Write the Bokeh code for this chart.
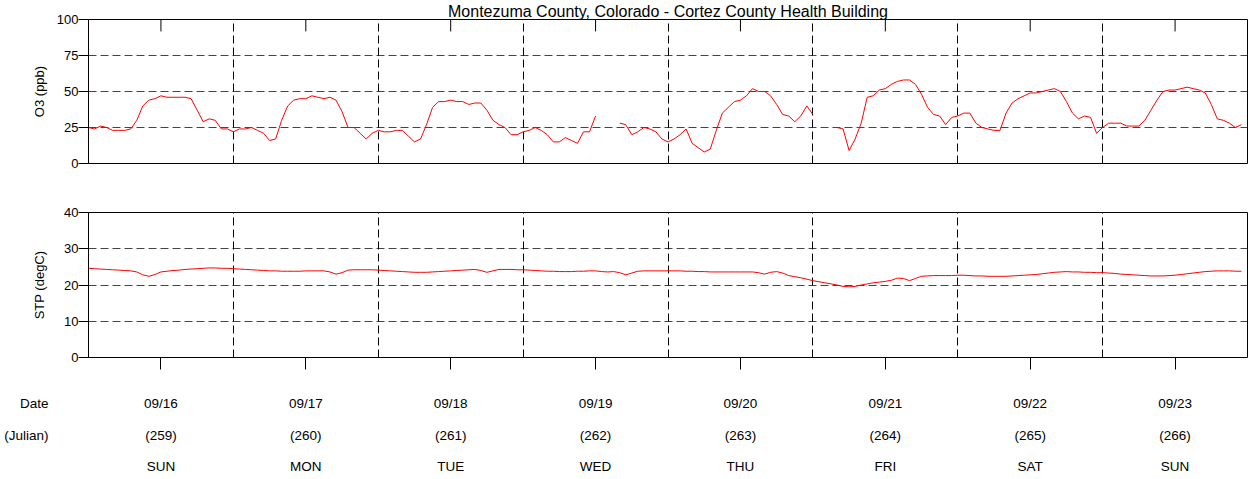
import math
import numpy as np
from bokeh.plotting import figure
from bokeh.models import LinearAxis, FixedTicker, Range1d, Grid
from bokeh.layouts import column
from bokeh.core.properties import value
from bokeh.embed import file_html
from bokeh.resources import INLINE

FONT = "Liberation Sans"
NaN = math.nan

title_text = "Montezuma County, Colorado - Cortez County Health Building"
julian_days = [259, 260, 261, 262, 263, 264, 265, 266]
date_labels = ["09/16", "09/17", "09/18", "09/19", "09/20", "09/21", "09/22", "09/23"]
weekday_labels = ["SUN", "MON", "TUE", "WED", "THU", "FRI", "SAT", "SUN"]
row_titles = ["Date", "(Julian)"]
o3_ticks = [0, 25, 50, 75, 100]
stp_ticks = [0, 10, 20, 30, 40]

# hourly ozone (ppb), starting at 00:00 of Julian day 259
o3_ppb = [
    25, 24, 26, 25, 23, 23, 23, 24, 30, 40, 44, 45, 47, 46, 46, 46, 46, 45, 37, 29, 31, 30, 24, 24,
    22, 24, 24, 25, 23, 21, 16, 17, 30, 40, 44, 45, 45, 47, 46, 45, 46, 44, 36, 25, 25, 21, 17, 21,
    23, 22, 22, 23, 23, 19, 15, 17, 27, 39, 43, 43, 44, 43, 43, 41, 42, 42, 37, 30, 27, 25, 20, 20,
    22, 23, 25, 23, 20, 15, 15, 18, 16, 14, 22, 22, 33, NaN, NaN, NaN, 28, 27, 20, 22, 25, 24, 22, 17,
    15, 17, 20, 24, 14, 11, 8, 10, 23, 35, 39, 43, 44, 47, 52, 50, 50, 47, 41, 34, 33, 29, 33, 40,
    34, NaN, NaN, NaN, 25, 24, 9, 17, 28, 46, 47, 51, 52, 55, 57, 58, 58, 55, 48, 39, 34, 33, 27, 32,
    33, 35, 35, 28, 25, 24, 23, 23, 35, 42, 45, 47, 49, 49, 50, 51, 52, 50, 43, 35, 31, 33, 32, 21,
    25, 28, 28, 28, 26, 26, 26, 30, 37, 44, 50, 51, 51, 52, 53, 52, 51, 49, 41, 31, 30, 28, 25, 27,
]

# hourly temperature (degC)
stp_degc = [
    24.6, 24.5, 24.4, 24.3, 24.2, 24.1, 24.0, 23.9, 23.6, 22.8, 22.4, 22.9, 23.6, 23.8, 24.0, 24.1, 24.3, 24.4, 24.5, 24.6, 24.7, 24.7, 24.6, 24.6,
    24.5, 24.4, 24.3, 24.2, 24.1, 24.0, 23.9, 23.9, 23.8, 23.8, 23.8, 23.8, 23.9, 23.9, 23.9, 23.9, 23.6, 23.0, 23.4, 24.1, 24.2, 24.2, 24.2, 24.2,
    24.1, 24.0, 23.9, 23.8, 23.7, 23.6, 23.5, 23.5, 23.5, 23.6, 23.7, 23.8, 23.9, 24.0, 24.1, 24.2, 24.3, 24.0, 23.5, 23.9, 24.3, 24.3, 24.3, 24.2,
    24.2, 24.1, 24.0, 23.9, 23.8, 23.8, 23.7, 23.7, 23.7, 23.8, 23.8, 23.9, 23.9, 23.7, 23.6, 23.7, 23.4, 22.8, 23.3, 23.8, 23.9, 23.9, 23.9, 23.9,
    23.9, 23.9, 23.9, 23.8, 23.8, 23.7, 23.7, 23.6, 23.6, 23.6, 23.6, 23.6, 23.6, 23.6, 23.6, 23.4, 23.0, 23.5, 23.7, 23.3, 22.6, 22.3, 22.0, 21.6,
    21.2, 20.9, 20.6, 20.3, 20.0, 19.6, 19.5, 19.6, 20.0, 20.3, 20.6, 20.8, 21.0, 21.3, 21.9, 21.8, 21.2, 21.8, 22.4, 22.5, 22.6, 22.6, 22.6, 22.6,
    22.7, 22.7, 22.6, 22.5, 22.5, 22.4, 22.4, 22.4, 22.4, 22.5, 22.6, 22.7, 22.8, 22.9, 23.1, 23.3, 23.5, 23.6, 23.7, 23.6, 23.6, 23.5, 23.5, 23.4,
    23.4, 23.3, 23.2, 23.0, 22.9, 22.8, 22.7, 22.6, 22.5, 22.5, 22.5, 22.6, 22.7, 22.9, 23.1, 23.3, 23.5, 23.7, 23.8, 23.9, 23.9, 23.9, 23.8, 23.8,
]

hours = np.arange(len(o3_ppb))
x_time = julian_days[0] + hours / 24.0
noon_ticks = [d + 0.5 for d in julian_days]
midnight_ticks = julian_days[1:]
x_start, x_end = julian_days[0], julian_days[-1] + 1

# ---- layout (pixels) ----
CANVAS_W = 1248
LEFT = 88
RIGHT = 1
FRAME_H = 145
P1_TOP, P1_BOT = 18, 25
P2_TOP, P2_BOT = 24, 14
P3_H = 479 - (P1_TOP + FRAME_H + P1_BOT) - (P2_TOP + FRAME_H + P2_BOT)
TICK_LEN = 12
ROW_Y = [32, 64, 95]           # centres of the three label rows inside the bottom strip
ROW_TITLE_STANDOFF = 40
FS = "13px"
FS_ROWS = "13.5px"
HGRID = "#444444"

x_rng = Range1d(x_start, x_end)


def make_fig(height, y_rng, top, bottom, outline=True, **kw):
    p = figure(width=CANVAS_W, height=height, x_range=x_rng, y_range=y_rng,
               output_backend="svg", toolbar_location=None,
               x_axis_location=None, y_axis_location=None,
               min_border_left=LEFT, min_border_right=RIGHT,
               min_border_top=top, min_border_bottom=bottom,
               background_fill_color="white", border_fill_color="white",
               outline_line_color="black" if outline else None,
               outline_line_width=1, outline_line_alpha=1.0, **kw)
    p.center = [r for r in p.center if not isinstance(r, Grid)]
    return p


def style_y(ax, label, label_standoff):
    ax.axis_label = label
    ax.axis_label_text_font = FONT
    ax.axis_label_text_font_size = FS
    ax.axis_label_text_font_style = "normal"
    ax.axis_label_text_color = "black"
    ax.axis_label_standoff = label_standoff
    ax.major_label_text_font = FONT
    ax.major_label_text_font_size = FS
    ax.major_label_text_color = "black"
    ax.major_tick_out = 10
    ax.major_tick_in = 0
    ax.major_label_standoff = 0
    ax.minor_tick_line_color = None
    ax.axis_line_color = "black"
    ax.major_tick_line_color = "black"


def add_grids(p, y_ticks):
    p.add_layout(Grid(dimension=1, ticker=FixedTicker(ticks=y_ticks),
                      grid_line_color=HGRID, grid_line_dash="8 4", grid_line_width=1))
    p.add_layout(Grid(dimension=0, ticker=FixedTicker(ticks=midnight_ticks),
                      grid_line_color="black", grid_line_dash="8 4", grid_line_width=1))


# ---------------- top panel: O3 ----------------
p1 = make_fig(P1_TOP + FRAME_H + P1_BOT, Range1d(o3_ticks[0], o3_ticks[-1]), P1_TOP, P1_BOT,
              title=title_text)
p1.title.text_font = FONT
p1.title.text_font_size = "16px"
p1.title.text_font_style = "normal"
p1.title.text_color = "black"
p1.title.align = "center"
p1.title.standoff = 0
p1.title.offset = 0

ya1 = LinearAxis(ticker=FixedTicker(ticks=o3_ticks))
style_y(ya1, "O3 (ppb)", 7)
p1.add_layout(ya1, "left")
add_grids(p1, o3_ticks[1:-1])

# noon tick marks pointing into the panel from its top edge
o3_per_px = (o3_ticks[-1] - o3_ticks[0]) / FRAME_H
p1.segment(x0=noon_ticks, y0=[o3_ticks[-1]] * len(noon_ticks),
           x1=noon_ticks, y1=[o3_ticks[-1] - TICK_LEN * o3_per_px] * len(noon_ticks),
           line_color="black", line_width=1)

p1.line(x_time, o3_ppb, line_color="#ff0000", line_width=1)

# ---------------- bottom panel: STP ----------------
p2 = make_fig(P2_TOP + FRAME_H + P2_BOT, Range1d(stp_ticks[0], stp_ticks[-1]), P2_TOP, P2_BOT)
ya2 = LinearAxis(ticker=FixedTicker(ticks=stp_ticks))
style_y(ya2, "STP (degC)", 14)
p2.add_layout(ya2, "left")
p2.add_layout(LinearAxis(ticker=FixedTicker(ticks=noon_ticks),
                         major_tick_in=0, major_tick_out=TICK_LEN,
                         major_tick_line_color="black", minor_tick_line_color=None,
                         axis_line_color=None, major_label_standoff=0,
                         major_label_text_font_size="0px",
                         major_label_overrides={t: "" for t in noon_ticks}), "below")
add_grids(p2, stp_ticks[1:-1])

p2.line(x_time, stp_degc, line_color="#ff0000", line_width=1)

# ---------------- label strip: date / julian / weekday ----------------
p3 = make_fig(P3_H, Range1d(P3_H, 0), 0, 0, outline=False)
rows = [date_labels, ["(%d)" % d for d in julian_days], weekday_labels]
for labels, yy in zip(rows, ROW_Y):
    p3.text(x=noon_ticks, y=[yy] * len(labels), text=labels,
            text_align="center", text_baseline="middle",
            text_font=value(FONT), text_font_size=value(FS_ROWS), text_color="black")

row_axis = LinearAxis(ticker=FixedTicker(ticks=ROW_Y[:len(row_titles)]),
                      major_label_overrides={float(y): t for y, t in zip(ROW_Y, row_titles)},
                      major_label_standoff=ROW_TITLE_STANDOFF,
                      major_label_text_font=FONT, major_label_text_font_size=FS_ROWS,
                      major_label_text_color="black",
                      major_tick_in=0, major_tick_out=0, major_tick_line_color=None,
                      minor_tick_line_color=None, axis_line_color=None)
p3.add_layout(row_axis, "left")

layout = column(p1, p2, p3, spacing=0)
open("out.html", "w").write(file_html(layout, INLINE))
